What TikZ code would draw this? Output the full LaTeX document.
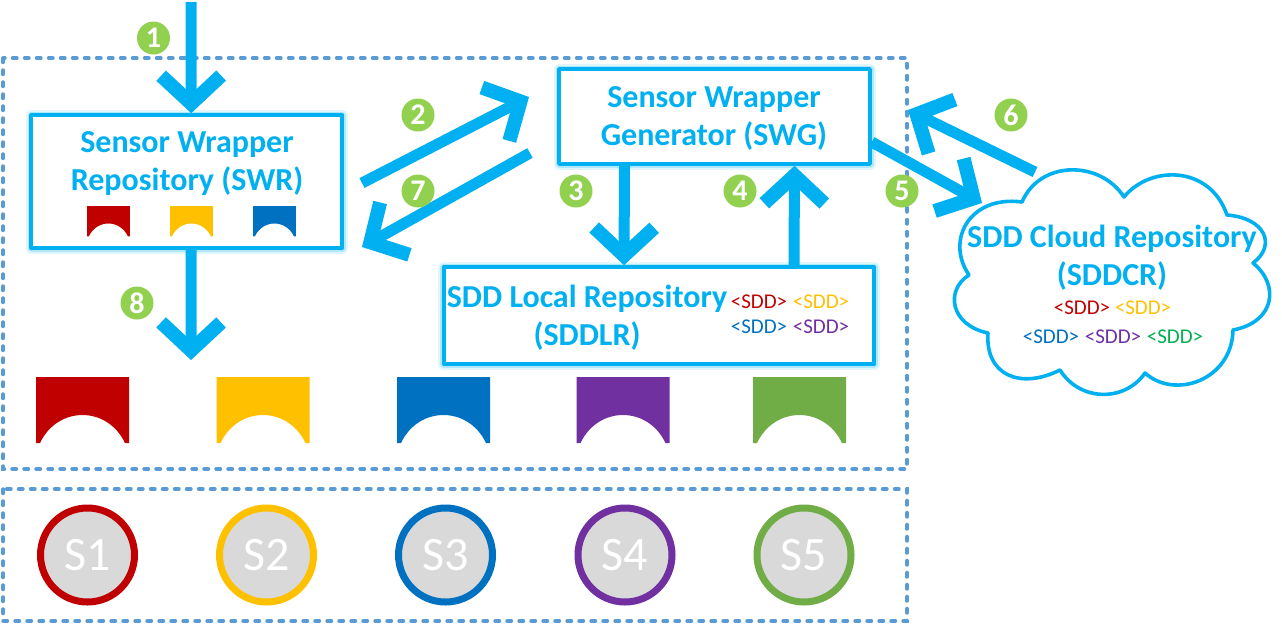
\documentclass[tikz,border=0pt]{standalone}
\usepackage{fontspec}
\setmainfont{Carlito}
\usetikzlibrary{arrows.meta}
\definecolor{cy}{HTML}{00B0F0}
\definecolor{dashb}{HTML}{5B9BD5}
\definecolor{cred}{HTML}{C00000}
\definecolor{cyel}{HTML}{FFC000}
\definecolor{cblu}{HTML}{0070C0}
\definecolor{cpur}{HTML}{7030A0}
\definecolor{cgrn}{HTML}{70AD47}
\definecolor{cgr2}{HTML}{00B050}
\definecolor{badgeg}{HTML}{92D050}
\definecolor{sgray}{HTML}{D9D9D9}
\newcommand{\bridgeshape}[4]{%
  \fill[#4,shift={(#1,#2)},scale=#3] (0,0) -- (93,0) -- (93,66) -- (89,66)
    .. controls (80,47) and (63,38) .. (46.5,38)
    .. controls (30,38) and (13,47) .. (4,66) -- (0,66) -- cycle;}
\tikzset{
  x=1pt,y=-1pt,
  dashbox/.style={draw=dashb,line width=3.4pt,dash pattern=on 4.5pt off 7.5pt,line cap=round},
  repobox/.style={rectangle,draw=cy,line width=3.6pt,fill=white,inner sep=0pt,line join=round,
    preaction={draw=cy!12,line width=11pt},
    preaction={draw=cy!30,line width=7pt}},
  flow/.style={draw=cy,line width=11pt,-{Straight Barb[length=28pt,width=60pt,line width=14pt]}},
  title/.style={text=cy,align=center,inner sep=0pt,font=\fontsize{32}{38}\selectfont\bfseries},
  sdd/.style={inner sep=0pt,font=\fontsize{21}{24}\selectfont},
  badge/.style={circle,fill=badgeg,text=white,inner sep=0pt,minimum size=33pt,font=\fontsize{30}{30}\selectfont\bfseries},
  sensor/.style={circle,draw=#1,line width=7pt,fill=sgray,text=white,inner sep=0pt,minimum size=94pt,font=\fontsize{48}{48}\selectfont},
}
\begin{document}
\begin{tikzpicture}
\useasboundingbox (0,0) rectangle (1282,625);
\fill[white] (0,0) rectangle (1282,625);

% dashed frames
\draw[dashbox] (3,58) rectangle (907,469);
\draw[dashbox] (3,489) rectangle (907,621);

% repositories
\node[repobox,minimum width=311pt,minimum height=133pt] (swr) at (186.7,181.5) {};
\node[repobox,minimum width=311pt,minimum height=95pt] (swg) at (714.5,116.5) {};
\node[repobox,minimum width=430.5pt,minimum height=97pt] (sddlr) at (659,315.5) {};

\node[title] (swrtext) at (187,163.5) {Sensor Wrapper\\Repository (SWR)};
\node[title] (swgtext) at (714,118) {Sensor Wrapper\\Generator (SWG)};
\node[title] (sddlrtext) at (587,317.5) {SDD Local Repository\\(SDDLR)};

% small connectors in SWR
\bridgeshape{87}{206}{0.46}{cred}
\bridgeshape{170}{206}{0.46}{cyel}
\bridgeshape{253}{206}{0.46}{cblu}

% SDD tags, local
\node[sdd,text=cred] (l1) at (759,302) {<SDD>};
\node[sdd,text=cyel] (l2) at (821,302) {<SDD>};
\node[sdd,text=cblu] (l3) at (759,327) {<SDD>};
\node[sdd,text=cpur] (l4) at (821,327) {<SDD>};

% cloud
\draw[cy,line width=3.6pt,fill=white,line join=round]
  (1022,202) .. controls (1040,160) and (1100,160) .. (1124,197)
  .. controls (1150,165) and (1210,165) .. (1227,215)
  .. controls (1265,218) and (1277,245) .. (1253,263)
  .. controls (1280,285) and (1275,322) .. (1233,330)
  .. controls (1232,380) and (1175,400) .. (1145,373)
  .. controls (1125,402) and (1080,402) .. (1060,370)
  .. controls (1020,390) and (985,375) .. (988,333)
  .. controls (950,325) and (945,290) .. (969,275)
  .. controls (945,240) and (970,195) .. (1022,202) -- cycle;
\node[title] (cloudtext) at (1112,258) {SDD Cloud Repository\\(SDDCR)};
\node[sdd,text=cred] (c1) at (1082,308) {<SDD>};
\node[sdd,text=cyel] (c2) at (1143,308) {<SDD>};
\node[sdd,text=cblu] (c3) at (1051,337) {<SDD>};
\node[sdd,text=cpur] (c4) at (1113,337) {<SDD>};
\node[sdd,text=cgr2] (c5) at (1175,337) {<SDD>};

% large connectors
\bridgeshape{36}{377}{1}{cred}
\bridgeshape{216.5}{377}{1}{cyel}
\bridgeshape{397}{377}{1}{cblu}
\bridgeshape{576.5}{377}{1}{cpur}
\bridgeshape{753}{377}{1}{cgrn}

% sensors
\node[sensor=cred] (s1) at (87.5,555) {S1};
\node[sensor=cyel] (s2) at (266.5,555) {S2};
\node[sensor=cblu] (s3) at (445.5,555) {S3};
\node[sensor=cpur] (s4) at (625,555) {S4};
\node[sensor=cgrn] (s5) at (804,555) {S5};

% free ends
\coordinate (in1) at (191,2);
\coordinate (conn8) at (191,360);
\coordinate (c2tail) at (362,183);
\coordinate (c2tip) at (529,97);
\coordinate (c7tail) at (530,153);
\coordinate (c7tip) at (362,247);
\coordinate (c5tip) at (982,203);
\coordinate (c6tail) at (1035,172);
\coordinate (c6tip) at (908,110);

% arrows
\draw[flow] (in1) -- ([xshift=4.5pt]swr.north);
\draw[flow] (c2tail) -- (c2tip);
\draw[flow] (c7tail) -- (c7tip);
\draw[flow] ([xshift=-90pt]swg.south) -- ([xshift=-35pt]sddlr.north);
\draw[flow] ([xshift=135pt]sddlr.north) -- ([xshift=80pt]swg.south);
\draw[flow] (swg.east |- 0,142) -- (c5tip);
\draw[flow] (c6tail) -- (c6tip);
\draw[flow] ([xshift=4.5pt]swr.south) -- (conn8);

% badges
\node[badge] (b1) at (153.5,38) {1};
\node[badge] (b2) at (418,115) {2};
\node[badge] (b3) at (576,191) {3};
\node[badge] (b4) at (740,191) {4};
\node[badge] (b5) at (902,191) {5};
\node[badge] (b6) at (1011,115) {6};
\node[badge] (b7) at (418,191) {7};
\node[badge] (b8) at (137,303) {8};
\end{tikzpicture}
\end{document}
